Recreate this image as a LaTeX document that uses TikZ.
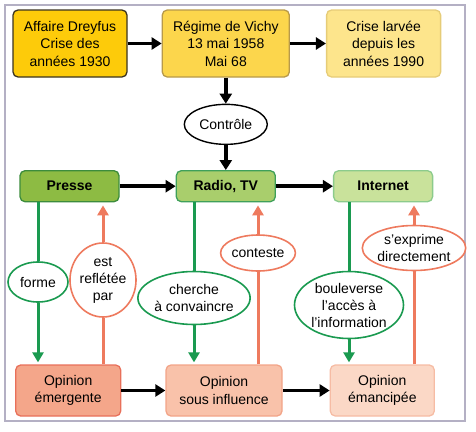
\documentclass[tikz,border=0pt]{standalone}
\usepackage{fontspec}
\setmainfont{Liberation Sans}
\usepackage{tikz}
\usetikzlibrary{arrows.meta,positioning,shapes.geometric}
\definecolor{frameline}{HTML}{B4B0C4}
\definecolor{gold}{HTML}{FDCB0A}
\definecolor{goldline}{HTML}{3A3320}
\definecolor{straw}{HTML}{FCD64C}
\definecolor{strawline}{HTML}{B89A4A}
\definecolor{butter}{HTML}{FDE58C}
\definecolor{butterline}{HTML}{E6CC78}
\definecolor{moss}{HTML}{8DBB43}
\definecolor{mossline}{HTML}{3C8C3C}
\definecolor{fern}{HTML}{A9CE6C}
\definecolor{fernline}{HTML}{3FA05A}
\definecolor{sprout}{HTML}{C9E29B}
\definecolor{sproutline}{HTML}{8CCB8C}
\definecolor{coral}{HTML}{F4A68A}
\definecolor{coralline}{HTML}{E8705A}
\definecolor{peach}{HTML}{F9C2AA}
\definecolor{peachline}{HTML}{F2A488}
\definecolor{shell}{HTML}{FBD8C6}
\definecolor{shellline}{HTML}{F6BCA4}
\definecolor{leaf}{HTML}{1A9A50}
\definecolor{salmon}{HTML}{EE7A5E}
\tikzset{
  card/.style={rectangle, rounded corners=5pt, line width=1.3pt, align=center, inner sep=0pt,
               font=\fontsize{14}{17.5}\selectfont},
  erabox/.style={card, minimum height=67pt},
  mediabox/.style={card, minimum width=99pt, minimum height=31pt, font=\fontsize{14}{17}\selectfont\bfseries},
  opinbox/.style={card, minimum height=51pt},
  bubble/.style={ellipse, fill=white, line width=1.6pt, inner sep=0pt, align=center,
                 font=\fontsize{14}{17}\selectfont},
  push/.style={-{Triangle[length=10pt,width=12pt]}, line width=3.5pt, draw=black},
  shapes/.style={line width=3pt, draw=leaf},
  shapesto/.style={shapes, -{Triangle[length=10pt,width=11pt]}, shorten >=2pt},
  echo/.style={line width=3pt, draw=salmon},
  echoto/.style={echo, -{Triangle[length=10pt,width=11pt]}, shorten >=3pt}
}
\begin{document}
\begin{tikzpicture}[x=1pt, y=-1pt]
 \useasboundingbox (0,0) rectangle (476,431);
 \draw[frameline, line width=1.3pt] (5,5) rectangle (465,421);
 % top row
 \node[erabox, fill=gold, draw=goldline, minimum width=114pt] (dreyfus) at (70,43.5) {Affaire Dreyfus\\Crise des\\années 1930};
 \node[erabox, fill=straw, draw=strawline, minimum width=127pt, right=34pt of dreyfus] (vichy) {Régime de Vichy\\13 mai 1958\\Mai 68};
 \node[erabox, fill=butter, draw=butterline, minimum width=114pt, right=36pt of vichy] (larvee) {Crise larvée\\depuis les\\années 1990};
 \node[bubble, draw=black, line width=1.4pt, minimum width=83pt, minimum height=40pt, below=26pt of vichy] (controle) {Contrôle};
 % media
 \node[mediabox, fill=fern, draw=fernline, below=25pt of controle] (radio) {Radio, TV};
 \node[mediabox, fill=moss, draw=mossline, left=56pt of radio] (presse) {Presse};
 \node[mediabox, fill=sprout, draw=sproutline, right=57pt of radio] (internet) {Internet};
 % opinions
 \node[opinbox, fill=peach, draw=peachline, minimum width=116pt] (influence) at (224,390.5) {Opinion\\sous influence};
 \node[opinbox, fill=coral, draw=coralline, minimum width=105pt, left=44pt of influence] (emergente) {Opinion\\émergente};
 \node[opinbox, fill=shell, draw=shellline, minimum width=104pt, right=47pt of influence] (emancipee) {Opinion\\émancipée};
 % bubbles
 \node[bubble, draw=leaf, minimum width=60pt, minimum height=40pt] (forme) at (38,282) {forme};
 \node[bubble, draw=salmon, minimum width=57pt, minimum height=74pt] (reflet) at (103,280) {est\\reflétée\\par};
 \node[bubble, draw=leaf, minimum width=91pt, minimum height=53pt] (convaincre) at (194,298) {cherche\\à convaincre};
 \node[bubble, draw=salmon, minimum width=62pt, minimum height=36pt] (conteste) at (258,253) {conteste};
 \node[bubble, draw=leaf, minimum width=109pt, minimum height=67pt] (acces) at (349,305) {bouleverse\\l’accès à\\l’information};
 \node[bubble, draw=salmon, minimum width=96pt, minimum height=45pt] (exprime) at (414,248) {s’exprime\\directement};
 % black flows
 \draw[push] (dreyfus) -- (vichy);
 \draw[push] (vichy) -- (larvee);
 \draw[push] (vichy) -- (controle);
 \draw[push] (controle) -- (radio);
 \draw[push] (presse) -- (radio);
 \draw[push] (radio) -- (internet);
 \draw[push] (emergente) -- (influence);
 \draw[push] (influence) -- (emancipee);
 % media shape opinion
 \draw[shapes] (forme.north |- presse.south) -- (forme.north);
 \draw[shapesto] (forme.south) -- (forme.south |- emergente.north);
 \draw[shapes] (convaincre.north |- radio.south) -- (convaincre.north);
 \draw[shapesto] (convaincre.south) -- (convaincre.south |- influence.north);
 \draw[shapes] (acces.north |- internet.south) -- (acces.north);
 \draw[shapesto] (acces.south) -- (acces.south |- emancipee.north);
 % opinion answers back
 \draw[echo] (reflet.south |- emergente.north) -- (reflet.south);
 \draw[echoto] (reflet.north) -- (reflet.north |- presse.south);
 \draw[echo] (conteste.south |- influence.north) -- (conteste.south);
 \draw[echoto] (conteste.north) -- (conteste.north |- radio.south);
 \draw[echo] (exprime.south |- emancipee.north) -- (exprime.south);
 \draw[echoto] (exprime.north) -- (exprime.north |- internet.south);
\end{tikzpicture}
\end{document}
